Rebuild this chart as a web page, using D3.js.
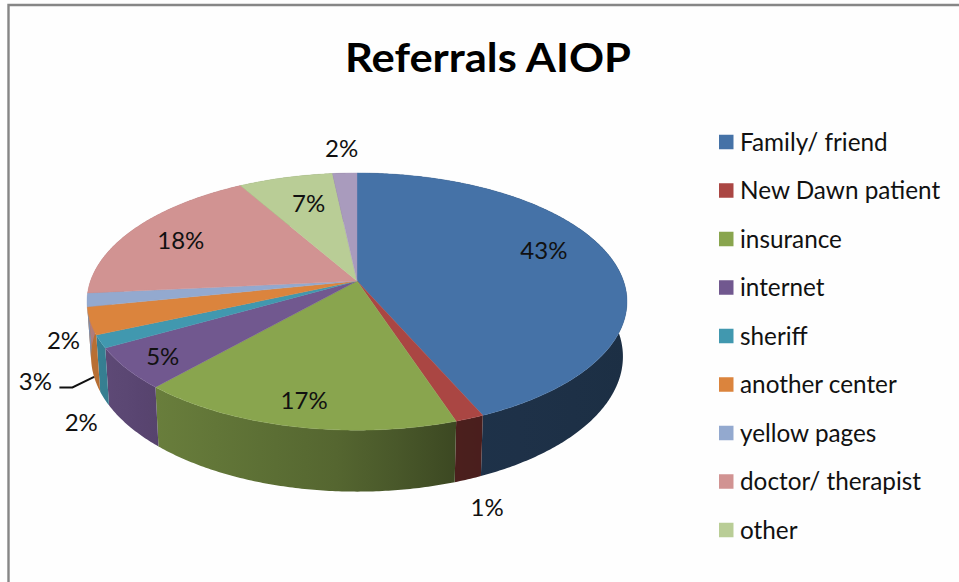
<!DOCTYPE html>
<html>
<head>
<meta charset="utf-8">
<script src="https://unpkg.com/d3@7/dist/d3.min.js"></script>
<style>
  html, body { margin: 0; padding: 0; background: #fefefe; }
  svg { display: block; }
  text { font-family: Lato, sans-serif; fill: #111; }
</style>
</head>
<body>
<script>
// data
const title = "Referrals AIOP";
const categories = ["Family/ friend", "New Dawn patient", "insurance", "internet", "sheriff",
  "another center", "yellow pages", "doctor/ therapist", "other"];
const shares = [43.4, 1.49, 16.71, 5.2, 1.6, 3.4, 1.7, 18.2, 6.6, 1.7];
const colors = ["#4572a7", "#aa4643", "#89a54e", "#71588f", "#4198af", "#db843d", "#93a9cf",
  "#d19392", "#b9cd96", "#a99bbd"];

// layout-variables
const width = 959;
const height = 582;
const apexX = 357;
const apexY = 281;
const farPull = 0.16; // perspective of the tilted disc
const radiusX = 266.5;
const radiusY = 125.3;

// hand placed labels: radius factor on the slice middle, then a nudge
const labelRadius = [0.75, 1.2, 0.75, 0.75, 1.2, 1.2, 1.2, 0.75, 0.75, 1.2];
const labelNudge = [[-4, -13], [-10, 55], [-7, 14], [-26, 11], [37, 67], [2, 51], [32, 36],
  [-8, -1], [7, 2], [-1, -8]];

const svg = d3.select("body").append("svg").attr("width", width).attr("height", height);
const defs = svg.append("defs");

// frame
svg.append("path")
  .attr("d", d3.line()([[8.5, height], [8.5, 5], [width, 5]]))
  .attr("fill", "none")
  .attr("stroke", "#868686")
  .attr("stroke-width", 2.4);

// title
svg.append("text")
  .attr("x", 488)
  .attr("y", 72)
  .attr("text-anchor", "middle")
  .attr("font-size", 41)
  .attr("font-weight", 700)
  .attr("textLength", 286)
  .attr("lengthAdjust", "spacingAndGlyphs")
  .style("fill", "#000")
  .text(title);

// project a point of the disc to the screen
function project(angle, r) {
  const u = r * Math.sin(angle);
  const v = -r * Math.cos(angle);
  const w = 1 - farPull * v;
  return [apexX + (radiusX * u) / w, apexY + (radiusY * v) / w];
}

// same for the bottom rim
function projectBottom(angle) {
  const [x, y] = project(angle, 1);
  return [apexX + (x - apexX) * 0.985, apexY + (y - apexY) * 1.05 + 54];
}

const slices = d3.pie().sort(null).value((d) => d)(shares);
const arcPoints = (d) => {
  const n = Math.max(2, Math.ceil((d.endAngle - d.startAngle) / 0.01));
  return d3.range(n + 1).map((i) => d.startAngle + ((d.endAngle - d.startAngle) * i) / n);
};

// the wall gets darker to the right
const wallShade = d3.scaleLinear().domain([87, 160, 357, 450, 627]).range([0.85, 0.76, 0.6, 0.44, 0.41]);
const shadeColor = (c, x) => {
  const k = wallShade(x);
  const rgb = d3.rgb(c);
  return d3.rgb(rgb.r * k, rgb.g * k, rgb.b * k).formatHex();
};

const walls = svg.append("g");
slices.forEach((d, i) => {
  const angles = arcPoints(d);
  const top = angles.map((a) => project(a, 1));
  const bottom = angles.map(projectBottom).reverse();
  const xs = top.concat(bottom).map((p) => p[0]);
  const [x0, x1] = d3.extent(xs);
  const grad = defs.append("linearGradient")
    .attr("id", "wall" + i)
    .attr("gradientUnits", "userSpaceOnUse")
    .attr("x1", x0).attr("x2", x1).attr("y1", 0).attr("y2", 0);
  d3.range(6).forEach((s) => {
    grad.append("stop")
      .attr("offset", s / 5)
      .attr("stop-color", shadeColor(colors[i], x0 + ((x1 - x0) * s) / 5));
  });
  walls.append("path")
    .attr("d", d3.line()(top.concat(bottom)) + "Z")
    .attr("fill", `url(#wall${i})`);
});

// top of the disc
svg.append("g")
  .selectAll("path")
  .data(slices)
  .enter()
  .append("path")
  .attr("d", (d) => d3.line()([[apexX, apexY]].concat(arcPoints(d).map((a) => project(a, 1)))) + "Z")
  .attr("fill", (d, i) => colors[i])
  .attr("stroke", (d, i) => colors[i])
  .attr("stroke-width", 0.4);

// percent labels
const percent = d3.format(".0%");
const labelAt = (d, i) => {
  const [x, y] = project((d.startAngle + d.endAngle) / 2, labelRadius[i]);
  return [x + labelNudge[i][0], y + labelNudge[i][1]];
};

svg.append("g")
  .selectAll("text")
  .data(slices)
  .enter()
  .append("text")
  .attr("x", (d, i) => labelAt(d, i)[0])
  .attr("y", (d, i) => labelAt(d, i)[1])
  .attr("text-anchor", "middle")
  .attr("dominant-baseline", "central")
  .attr("font-size", 24)
  .text((d) => percent(d.value / 100));

// leader of the "another center" label
const leaderSlice = slices[5];
const leaderAt = labelAt(leaderSlice, 5);
svg.append("path")
  .attr("d", d3.line()([
    [leaderAt[0] + 24, leaderAt[1] + 7],
    [leaderAt[0] + 37, leaderAt[1] + 7],
    projectBottom((leaderSlice.startAngle + leaderSlice.endAngle) / 2)
  ]))
  .attr("fill", "none")
  .attr("stroke", "#111")
  .attr("stroke-width", 2);

// legend
const legendY = d3.scalePoint().domain(categories).range([142, 530]);
const legend = svg.append("g")
  .selectAll("g")
  .data(categories)
  .enter()
  .append("g")
  .attr("transform", (d) => `translate(719, ${legendY(d)})`);

legend.append("rect")
  .attr("y", -7.25)
  .attr("width", 14.5)
  .attr("height", 14.5)
  .attr("fill", (d, i) => colors[i]);

legend.append("text")
  .attr("x", 21)
  .attr("y", -1)
  .attr("dominant-baseline", "central")
  .attr("font-size", 24.3)
  .text((d) => d);
</script>
</body>
</html>
